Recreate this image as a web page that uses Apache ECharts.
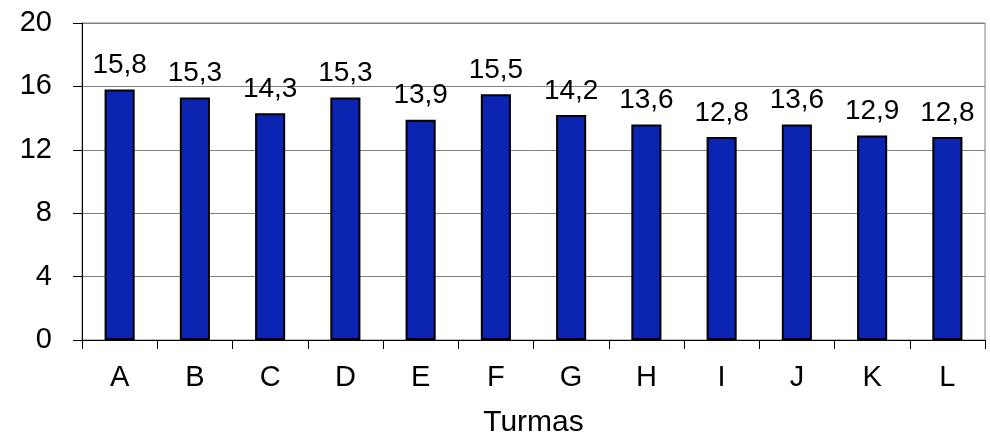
<!DOCTYPE html>
<html>
<head>
<meta charset="utf-8">
<script src="https://cdn.jsdelivr.net/npm/echarts@6/dist/echarts.min.js"></script>
<style>
  html, body { margin: 0; padding: 0; background: #fff; }
  #chart { width: 990px; height: 435px; }
</style>
</head>
<body>
<div id="chart"></div>
<script>
// turmas e médias
const turmas = ['A', 'B', 'C', 'D', 'E', 'F', 'G', 'H', 'I', 'J', 'K', 'L']
const medias = [15.8, 15.3, 14.3, 15.3, 13.9, 15.5, 14.2, 13.6, 12.8, 13.6, 12.9, 12.8]

const font = 'Liberation Sans, Arial, sans-serif'

const chart = echarts.init(document.getElementById('chart'))
chart.setOption({
  animation: false,
  grid: {
    left: 82, right: 5, top: 23, bottom: 95,
    outerBoundsMode: 'none',
    show: true, borderColor: '#808080', borderWidth: 1
  },
  xAxis: {
    type: 'category',
    data: turmas,
    name: 'Turmas',
    nameLocation: 'middle',
    nameGap: 68,
    nameTextStyle: { fontSize: 30, color: '#000', fontFamily: font },
    axisLine: { lineStyle: { color: '#000', width: 1 } },
    axisTick: { show: true, length: 9, lineStyle: { color: '#000' } },
    axisLabel: { fontSize: 29, color: '#000', fontFamily: font, margin: 23 }
  },
  yAxis: {
    type: 'value',
    min: 0, max: 20, interval: 4,
    axisLine: { show: true, lineStyle: { color: '#000', width: 1 } },
    axisTick: { show: true, length: 9, lineStyle: { color: '#000' } },
    splitLine: { lineStyle: { color: '#808080', width: 1 } },
    axisLabel: { fontSize: 29, color: '#000', fontFamily: font, margin: 30 }
  },
  series: [{
    type: 'bar',
    data: medias,
    barWidth: '40%',
    itemStyle: { color: '#0b24b2', borderColor: '#000', borderWidth: 2 },
    label: {
      show: true,
      position: 'top',
      distance: 10,
      fontSize: 28,
      color: '#000',
      fontFamily: font,
      formatter: p => String(p.value).replace('.', ',')
    }
  }]
})
</script>
</body>
</html>
